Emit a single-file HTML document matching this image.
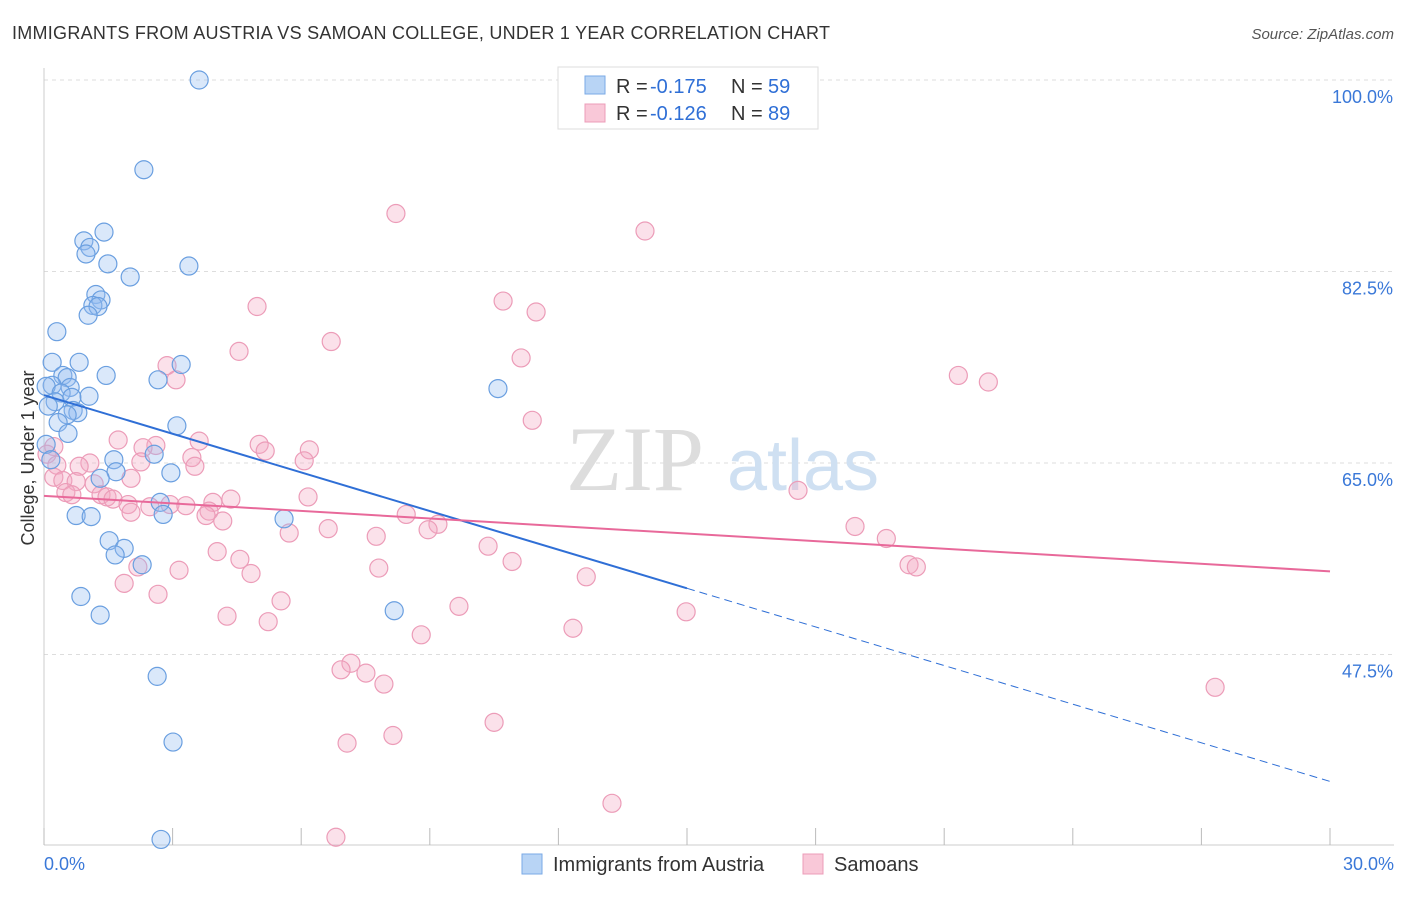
<!DOCTYPE html>
<html><head><meta charset="utf-8"><style>
body{margin:0;background:#fff;font-family:"Liberation Sans",sans-serif;}
</style></head><body>
<svg width="1406" height="892" xmlns="http://www.w3.org/2000/svg">
<text x="12" y="39" font-size="18" fill="#333" textLength="818">IMMIGRANTS FROM AUSTRIA VS SAMOAN COLLEGE, UNDER 1 YEAR CORRELATION CHART</text>
<text x="1394" y="39" font-size="15" fill="#555" font-style="italic" text-anchor="end">Source: ZipAtlas.com</text>
<g id="grid"></g>
<g>
<text x="635" y="490" font-size="92" fill="#ddd" font-family="Liberation Serif,serif" text-anchor="middle">ZIP</text>
<text x="803" y="490" font-size="72" fill="#cfe0f2" text-anchor="middle">atlas</text>
</g>
<g id="ticks"></g>
<g id="pts"></g>
<g id="lines"></g>
<text transform="translate(34,458) rotate(-90)" font-size="18" fill="#333" text-anchor="middle">College, Under 1 year</text>
<g>
<rect x="558" y="67" width="260" height="62" fill="#fff" stroke="#ddd"/>
<rect x="585" y="76" width="20" height="18" fill="#b8d4f5" stroke="#7aaae6"/>
<rect x="585" y="104" width="20" height="18" fill="#f9c8d8" stroke="#ec9cb8"/>
<text x="616" y="93" font-size="20" fill="#333">R =</text>
<text x="650" y="93" font-size="20" fill="#2f6fd6">-0.175</text>
<text x="731" y="93" font-size="20" fill="#333">N =</text>
<text x="768" y="93" font-size="20" fill="#2f6fd6">59</text>
<text x="616" y="120" font-size="20" fill="#333">R =</text>
<text x="650" y="120" font-size="20" fill="#2f6fd6">-0.126</text>
<text x="731" y="120" font-size="20" fill="#333">N =</text>
<text x="768" y="120" font-size="20" fill="#2f6fd6">89</text>
</g>
<g>
<rect x="522" y="854" width="20" height="20" fill="#b8d4f5" stroke="#7aaae6"/>
<text x="553" y="871" font-size="20" fill="#333">Immigrants from Austria</text>
<rect x="803" y="854" width="20" height="20" fill="#f9c8d8" stroke="#ec9cb8"/>
<text x="834" y="871" font-size="20" fill="#333">Samoans</text>
</g>
</svg>
<script>
const yTicks=[100,82.5,65,47.5];
const yTickLabels=["100.0%","82.5%","65.0%","47.5%"];
const xTickVals=[0,3,6,9,12,15,18,21,24,27,30];
const xEndLabels=["0.0%","30.0%"];
const blueX=[3.62,2.33,1.40,0.93,1.07,0.98,1.49,3.38,2.01,1.21,1.33,1.14,1.26,1.03,0.30,0.19,0.82,3.20,1.45,0.44,0.54,2.66,0.19,0.05,0.61,0.40,1.05,0.65,10.59,0.26,0.68,0.79,0.54,0.33,3.10,0.56,0.05,2.57,1.63,0.16,1.68,2.96,1.31,2.71,2.78,0.75,1.10,5.60,1.52,1.87,1.66,2.29,0.86,8.17,1.31,2.64,3.01,2.73,0.10];
const blueY=[100,91.8,86.1,85.3,84.7,84.1,83.2,83.0,82.0,80.4,79.9,79.4,79.3,78.5,77.0,74.2,74.2,74.0,73.0,73.0,72.8,72.6,72.1,72.0,71.9,71.4,71.1,71.0,71.8,70.6,69.8,69.6,69.4,68.7,68.4,67.7,66.7,65.8,65.3,65.3,64.2,64.1,63.6,61.4,60.3,60.2,60.1,59.9,57.9,57.2,56.6,55.7,52.8,51.5,51.1,45.5,39.5,30.6,70.2];
const pinkX=[8.21,14.02,10.71,4.97,11.48,6.70,4.55,11.13,2.87,3.08,21.33,22.03,11.39,1.73,3.62,2.61,5.02,6.19,5.16,2.31,0.23,0.07,3.45,6.07,2.26,1.07,0.82,3.52,0.30,0.23,2.03,0.44,0.75,1.17,0.51,0.65,1.33,1.47,1.61,4.36,6.16,3.94,1.96,2.94,3.31,2.47,3.85,3.78,8.45,2.03,4.17,9.19,8.96,5.72,6.63,7.75,18.92,19.65,17.59,10.36,4.04,4.57,10.92,2.19,7.81,20.18,20.35,3.15,4.83,12.65,1.87,2.66,5.53,9.68,4.27,14.98,5.23,12.34,8.80,7.16,6.93,7.51,7.93,27.32,10.50,8.14,7.07,13.25,6.81];
const pinkY=[87.8,86.2,79.8,79.3,78.8,76.1,75.2,74.6,73.9,72.6,73.0,72.4,68.9,67.1,67.0,66.6,66.7,66.2,66.1,66.4,66.5,65.8,65.5,65.2,65.1,65.0,64.7,64.7,64.8,63.7,63.6,63.4,63.3,63.1,62.3,62.1,62.1,61.9,61.7,61.7,61.9,61.4,61.2,61.2,61.1,61.0,60.6,60.2,60.3,60.5,59.7,59.4,58.9,58.6,59.0,58.3,59.2,58.1,62.5,57.4,56.9,56.2,56.0,55.5,55.4,55.7,55.5,55.2,54.9,54.6,54.0,53.0,52.4,51.9,51.0,51.4,50.5,49.9,49.3,46.7,46.1,45.8,44.8,44.5,41.3,40.1,39.4,33.9,30.8];
const blueFit=[71.2,35.9];
const pinkFit=[62.0,55.1];
const NS="http://www.w3.org/2000/svg";
const X0=44,X1=1330,Y100=80,PXPER=191.5/17.5;
function sx(v){return X0+(v/30)*(X1-X0);}
function sy(v){return Y100+(100-v)*PXPER;}
function mk(tag,at,parent){const e=document.createElementNS(NS,tag);for(const k in at)e.setAttribute(k,at[k]);document.getElementById(parent).appendChild(e);return e;}
yTicks.forEach((t,i)=>{
 const l=mk('line',{x1:44,x2:1394,y1:sy(t),y2:sy(t),stroke:'#ddd','stroke-dasharray':'4,4'},'grid');
 
 
 const tx=mk('text',{x:1393,y:sy(t)+23,'font-size':18,fill:'#3a78d8','text-anchor':'end'},'ticks');
 tx.textContent=yTickLabels[i];
 
 
});
const ax=mk('line',{x1:44,x2:1394,y1:845,y2:845,stroke:'#ccc'},'grid');


const ay=mk('line',{x1:44,x2:44,y1:68,y2:845,stroke:'#ccc'},'grid');


xTickVals.forEach(v=>{
 const l=mk('line',{x1:sx(v),x2:sx(v),y1:828,y2:845,stroke:'#bbb'},'grid');
 
 
});
const t0=mk('text',{x:44,y:870,'font-size':18,fill:'#3a78d8'},'ticks');t0.textContent=xEndLabels[0];


const t1=mk('text',{x:1394,y:870,'font-size':18,fill:'#3a78d8','text-anchor':'end'},'ticks');t1.textContent=xEndLabels[1];


pinkX.forEach((x,i)=>{
 const c=mk('circle',{cx:sx(x),cy:sy(pinkY[i]),r:9,fill:'rgba(244,170,196,0.35)',stroke:'#ec9cb8','stroke-width':1.2},'pts');
 
 
});
blueX.forEach((x,i)=>{
 const c=mk('circle',{cx:sx(x),cy:sy(blueY[i]),r:9,fill:'rgba(150,190,240,0.35)',stroke:'#6a9fe0','stroke-width':1.2},'pts');
 
 
});
const bm=blueFit[0]+(blueFit[1]-blueFit[0])*0.5;
const b1=mk('line',{x1:sx(0),y1:sy(blueFit[0]),x2:sx(15),y2:sy(bm),stroke:'#2f6fd6','stroke-width':2},'lines');


const b2=mk('line',{x1:sx(15),y1:sy(bm),x2:sx(30),y2:sy(blueFit[1]),stroke:'#2f6fd6','stroke-width':1,'stroke-dasharray':'8,5'},'lines');


const p1=mk('line',{x1:sx(0),y1:sy(pinkFit[0]),x2:sx(30),y2:sy(pinkFit[1]),stroke:'#e8699a','stroke-width':2},'lines');


</script>
</body></html>
